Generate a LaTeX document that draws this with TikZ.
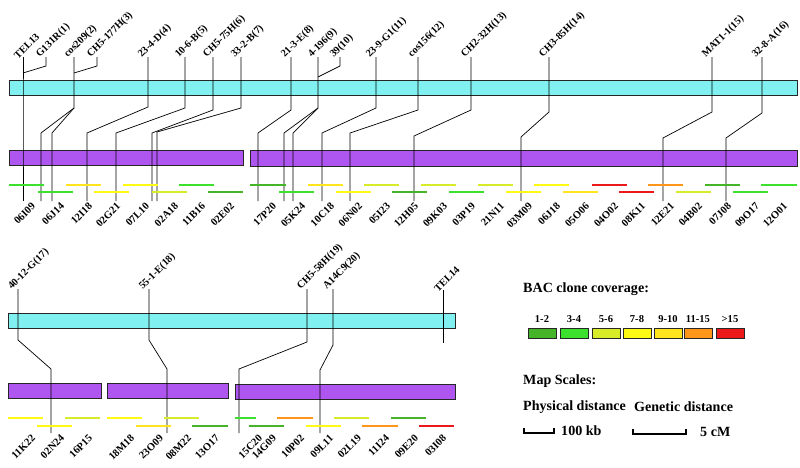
\documentclass[tikz,border=0pt]{standalone}
\usepackage{fontspec}
\setmainfont{Liberation Serif}
\usetikzlibrary{positioning}
\definecolor{chromcol}{RGB}{128,240,240}
\definecolor{contigcol}{RGB}{176,86,240}
\definecolor{cov12}{RGB}{70,180,40}
\definecolor{cov34}{RGB}{60,225,45}
\definecolor{cov56}{RGB}{215,235,40}
\definecolor{cov78}{RGB}{255,250,20}
\definecolor{cov910}{RGB}{255,228,30}
\definecolor{cov1115}{RGB}{255,150,25}
\definecolor{cov15}{RGB}{235,25,25}

\begin{document}
\begin{tikzpicture}[
  x=0.03cm, y=-0.03cm,
  every node/.style={font=\bfseries},
  chrom/.style={draw=black!85, line width=0.6pt, fill=chromcol},
  contig/.style={draw=black!85, line width=0.6pt, fill=contigcol},
  link/.style={line width=0.6pt},
  clone/.style={line width=2.4pt},
  mlabel/.style={rotate=45, anchor=south west, inner sep=0.5pt, font=\bfseries\fontsize{8.8}{10}\selectfont},
  clabel/.style={rotate=45, anchor=east, inner sep=0.5pt, font=\bfseries\fontsize{9}{10}\selectfont},
  keybox/.style={draw=black!85, line width=0.5pt},
  keytext/.style={anchor=west, inner sep=0pt, font=\bfseries\fontsize{12}{14}\selectfont},
  scalebar/.style={line width=1.3pt}
]
\useasboundingbox (0,0) rectangle (800,467);

% upper map
\draw[chrom] (9,80) rectangle (797,95);
\draw[contig] (9,150) rectangle (243,165);
\draw[contig] (250,150) rectangle (797,166);

\foreach \nm/\xt/\ya/\xb/\yb/\txt in {
  0/23/100/23/133/{TEL13}, 2/74/108/41/133/{cos209(2)},
  4/148/107/87/133/{23-4-D(4)}, 5/185/108/116/133/{10-6-B(5)},
  6/213/110/152/133/{CH5-75H(6)}, 7/241/108/157/132/{33-2-B(7)},
  8/291/110/258/133/{21-3-E(8)}, 9/318/108/284/133/{4-196(9)},
  11/376/108/322/133/{23-9-G1(11)}, 12/418/110/350/133/{cos156(12)},
  13/471/110/414/136/{CH2-32H(13)}, 14/549/112/521/137/{CH3-85H(14)},
  15/712/112/663/138/{MAT1-1(15)}, 16/762/113/726/138/{32-8-A(16)}}{
  \coordinate (t\nm) at (\xt,57);
  \coordinate (b\nm) at (\xb,201);
  \node[mlabel] (m\nm) at ([xshift=-4, yshift=-3]t\nm) {\txt};
  \draw[link] (t\nm) -- (\xt,\ya) -- (\xb,\yb) -- (b\nm);
}
% markers that join a neighbour
\foreach \nm/\xt/\yj/\to/\txt in {
  1/46/73/0/{G131R(1)}, 3/97/73/2/{CH5-177H(3)}, 10/340/77/9/{39(10)}}{
  \coordinate (t\nm) at (\xt,57);
  \node[mlabel] (m\nm) at ([xshift=-4, yshift=-3]t\nm) {\txt};
  \draw[link] (t\nm) -- (\xt,66) -- (t\to |- 0,\yj);
}
% second branches
\coordinate (b2x) at (52,201);
\coordinate (b9x) at (293,201);
\draw[link] (74,108) -- (52,133) -- (b2x);
\draw[link] (318,108) -- (293,133) -- (b9x);

\foreach \xs/\yy/\len/\col/\txt in {
  9/185/35/cov34/06I09, 38/192/35/cov34/06J14, 66/185/35/cov910/12I18,
  94/192/35/cov78/02G21, 123/185/35/cov78/07L10, 152/192/35/cov56/02A18,
  179/185/35/cov34/11B16, 208/192/35/cov12/02E02, 250/185/36/cov12/17P20,
  279/192/35/cov34/05K24, 308/185/35/cov910/10C18, 336/192/35/cov78/06N02,
  364/185/35/cov56/05I23, 392/192/35/cov12/12H05, 421/185/35/cov56/09K03,
  449/192/35/cov34/03P19, 478/185/35/cov56/21N11, 506/192/35/cov78/03M09,
  534/185/35/cov78/06J18, 563/192/35/cov910/05O06, 592/185/35/cov15/04O02,
  619/192/35/cov15/08K11, 648/185/35/cov1115/12E21, 676/192/35/cov56/04B02,
  705/185/35/cov12/07J08, 733/192/35/cov34/09O17, 761/185/36/cov34/12O01}{
  \draw[clone,\col] (\xs,\yy) -- ++(\len,0);
  \node[clabel] (c\txt) at (\xs+25,204) {\txt};
}

% lower map
\draw[chrom] (8,313) rectangle (455,328);
\draw[contig] (8,383) rectangle (101,398);
\draw[contig] (107,383) rectangle (228,398);
\draw[contig] (235,384) rectangle (455,399);

\foreach \nm/\xt/\ya/\xb/\yb/\txt in {
  17/18/340/51/369/{40-12-G(17)}, 18/149/340/167/369/{55-1-E(18)},
  19/307/342/239/369/{CH5-58H(19)}, 20/333/345/320/370/{A14C9(20)}}{
  \coordinate (t\nm) at (\xt,289);
  \coordinate (b\nm) at (\xb,433);
  \node[mlabel] (m\nm) at ([xshift=-4, yshift=-3]t\nm) {\txt};
  \draw[link] (t\nm) -- (\xt,\ya) -- (\xb,\yb) -- (b\nm);
}
\coordinate (t21) at (443,290);
\coordinate (b21) at (443,343);
\node[mlabel] (m21) at ([xshift=-4, yshift=-3]t21) {TEL14};
\draw[link] (t21) -- (b21);

\foreach \xs/\yy/\len/\col/\txt in {
  8/418/35/cov78/11K22, 37/426/35/cov78/02N24, 65/418/35/cov56/16P15,
  107/418/35/cov78/18M18, 136/426/35/cov910/23O09, 164/418/35/cov56/08M22,
  192/426/36/cov12/13O17, 235/418/21/cov34/15C20, 249/426/35/cov12/14G09,
  277/418/36/cov1115/10P02, 306/426/35/cov78/09L11, 334/418/35/cov56/02L19,
  362/426/36/cov1115/11I24, 391/418/35/cov12/09E20, 419/426/35/cov15/03I08}{
  \draw[clone,\col] (\xs,\yy) -- ++(\len,0);
  \node[clabel] (c\txt) at (\xs+26,436) {\txt};
}

% legend
\node[keytext] (cov) at (523,289) {BAC clone coverage:};
\foreach \xl/\col/\txt in {528/cov12/1-2, 560/cov34/3-4, 592/cov56/5-6,
  623/cov78/7-8, 654/cov910/9-10, 684/cov1115/11-15, 716/cov15/>15}{
  \draw[keybox, fill=\col] (\xl,328) rectangle ++(28,10);
  \node[font=\bfseries\fontsize{9}{10}\selectfont, inner sep=0pt] (k\txt) at (\xl+14,319) {\txt};
}
\node[keytext] (scales) at (523,381) {Map Scales:};
\node[keytext] (phys) at (523,407) {Physical distance};
\node[keytext] (gen) at (634,407) {Genetic distance};
\node[keytext] (kb) at (561,431) {100 kb};
\node[keytext] (cm) at (700,432) {5 cM};
\coordinate (kbl) at (524,428);
\coordinate (kbr) at (554,428);
\coordinate (cml) at (633,429);
\coordinate (cmr) at (686,429);
\draw[scalebar] (kbl) -- ++(0,5) -| (kbr);
\draw[scalebar] (cml) -- ++(0,5) -| (cmr);
\end{tikzpicture}
\end{document}
